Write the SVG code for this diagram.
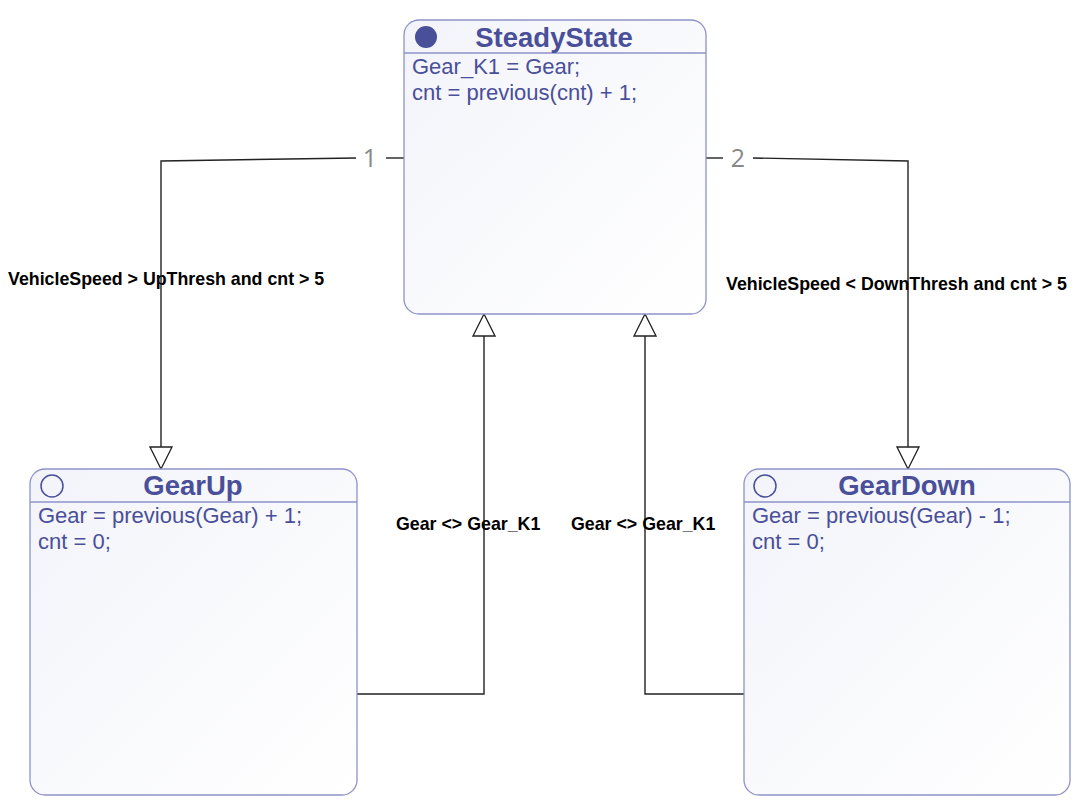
<svg xmlns="http://www.w3.org/2000/svg" width="1080" height="804" viewBox="0 0 1080 804">
<defs>
<linearGradient id="g" x1="0" y1="0" x2="1" y2="1">
<stop offset="0" stop-color="#f3f4fa"/>
<stop offset="1" stop-color="#ffffff"/>
</linearGradient>
<marker id="tri" viewBox="0 0 24 24" markerWidth="24" markerHeight="24" refX="23" refY="12" orient="auto" markerUnits="userSpaceOnUse">
<path d="M1,1 L23,12 L1,23 Z" fill="#ffffff" stroke="#222" stroke-width="1.3"/>
</marker>
<style>
.box{fill:url(#g);stroke:#8e92c8;stroke-width:1.3}
.hdr{stroke:#8e92c8;stroke-width:1.3}
.title{font-family:"Liberation Sans",Arial,sans-serif;font-weight:bold;font-size:27.5px;fill:#494f99;text-anchor:middle}
.body{font-family:"Liberation Sans",Arial,sans-serif;font-size:22px;fill:#494f99}
.conn{fill:none;stroke:#222;stroke-width:1.4}
.lbl{font-family:"Liberation Sans",Arial,sans-serif;font-weight:bold;font-size:17.8px;fill:#000}
.num{font-family:"Open Sans","DejaVu Sans",sans-serif;font-size:25px;fill:#888}
</style>
</defs>
<rect width="1080" height="804" fill="#fff"/>
<g id="connectors">
<path class="conn" d="M404,158 L386,158"/>
<path class="conn" d="M356,158 L161,161 L161,469" marker-end="url(#tri)"/>
<path class="conn" d="M706,158 L723,158"/>
<path class="conn" d="M753,158 L908,161 L908,469" marker-end="url(#tri)"/>
<path class="conn" d="M357,694 L484,694 L484,314" marker-end="url(#tri)"/>
<path class="conn" d="M744,694 L645,694 L645,314" marker-end="url(#tri)"/>
<text class="num" x="370" y="167" text-anchor="middle">1</text>
<text class="num" x="738" y="167" text-anchor="middle">2</text>
<text class="lbl" x="8" y="285">VehicleSpeed &gt; UpThresh and cnt &gt; 5</text>
<text class="lbl" x="726" y="290">VehicleSpeed &lt; DownThresh and cnt &gt; 5</text>
<text class="lbl" x="396" y="530">Gear &lt;&gt; Gear_K1</text>
<text class="lbl" x="571" y="530">Gear &lt;&gt; Gear_K1</text>
</g>
<g id="SteadyState">
<rect class="box" x="404" y="20" width="302" height="294" rx="15"/>
<line class="hdr" x1="404" y1="53" x2="706" y2="53"/>
<circle cx="426" cy="37" r="11" fill="#494f99"/>
<text class="title" x="554" y="47">SteadyState</text>
<text class="body" x="412" y="74">Gear_K1 = Gear;</text>
<text class="body" x="412" y="100">cnt = previous(cnt) + 1;</text>
</g>
<g id="GearUp">
<rect class="box" x="30" y="469" width="327" height="326" rx="15"/>
<line class="hdr" x1="30" y1="502" x2="357" y2="502"/>
<circle cx="52" cy="486" r="11" fill="none" stroke="#494f99" stroke-width="1.5"/>
<text class="title" x="193" y="495">GearUp</text>
<text class="body" x="38" y="523">Gear = previous(Gear) + 1;</text>
<text class="body" x="38" y="549">cnt = 0;</text>
</g>
<g id="GearDown">
<rect class="box" x="744" y="469" width="326" height="326" rx="15"/>
<line class="hdr" x1="744" y1="502" x2="1070" y2="502"/>
<circle cx="765" cy="486" r="11" fill="none" stroke="#494f99" stroke-width="1.5"/>
<text class="title" x="907" y="495">GearDown</text>
<text class="body" x="752" y="523">Gear = previous(Gear) - 1;</text>
<text class="body" x="752" y="549">cnt = 0;</text>
</g>
</svg>
